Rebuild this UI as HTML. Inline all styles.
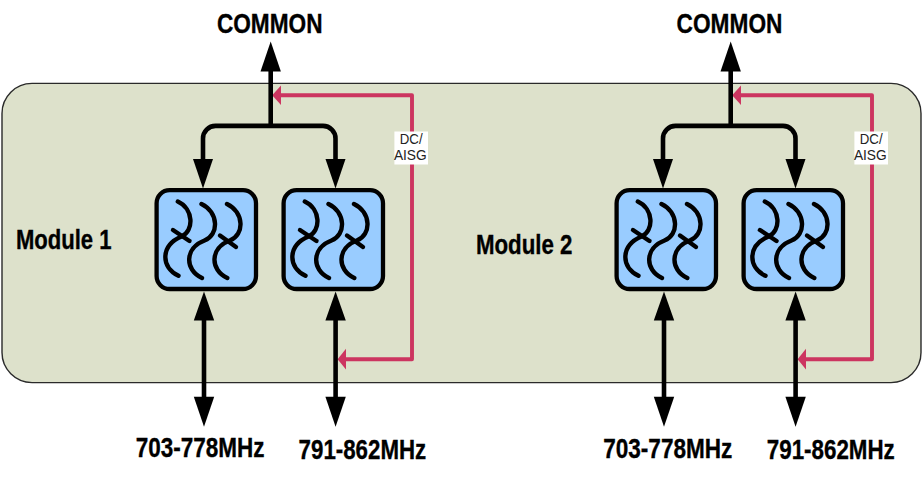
<!DOCTYPE html><html><head><meta charset="utf-8"><style>html,body{margin:0;padding:0;background:#fff;}svg{display:block;font-family:"Liberation Sans",sans-serif;}</style></head><body>
<svg width="923" height="479" viewBox="0 0 923 479">
<rect x="0" y="0" width="923" height="479" fill="#fff"/>
<rect x="2" y="83.4" width="919" height="299.2" rx="30" ry="30" fill="#DDE1CB" stroke="#2a2a2a" stroke-width="1.4"/>
<g transform="translate(0,0)">
<path d="M280,95.3 H412 V359.2 H345" fill="none" stroke="#CC3560" stroke-width="3.9" stroke-linejoin="round"/>
<polygon points="272.2,95.3 281,85.4 281,105" fill="#CC3560"/>
<polygon points="337.6,359.2 346,348.8 346,369.4" fill="#CC3560"/>
<rect x="394.4" y="131.5" width="33.6" height="33" fill="#FFFFFF"/>
<text x="399.8" y="143.9" font-size="14" fill="#222" textLength="22.8" lengthAdjust="spacingAndGlyphs">DC/</text>
<text x="393.9" y="159.9" font-size="14" fill="#222" textLength="32.8" lengthAdjust="spacingAndGlyphs">AISG</text>
<path d="M270.7,126 V70" fill="none" stroke="#000" stroke-width="4.6"/>
<polygon points="270.7,41.5 260.5,71.4 280.9,71.4" fill="#000"/>
<path d="M203,160 V138.4 a12.5,12.5 0 0 1 12.5,-12.5 H323 a12.5,12.5 0 0 1 12.5,12.5 V160" fill="none" stroke="#000" stroke-width="4.6"/>
<polygon points="193,158.9 213,158.9 203,188.4" fill="#000"/>
<polygon points="325.5,158.9 345.5,158.9 335.5,188.4" fill="#000"/>
<g transform="translate(0,0)">
<rect x="156.6" y="190.2" width="99.4" height="98.8" rx="13" ry="13" fill="#99CCFF" stroke="#000" stroke-width="4.3"/>
<g fill="none" stroke="#000" stroke-width="4.4" stroke-linecap="round">
<path d="M177.8,201.6 C194,209 194,231 181.5,236.5 C160.5,245.5 160.5,267 178.5,275.8"/>
<path d="M201.5,204 C219,212.5 219,235 204.5,240.5 C184.5,248 184.5,270 202,278"/>
<path d="M227,204 C244.5,212.5 244.5,235 229.8,240.5 C209.8,248 209.8,270 227.3,278"/>
<path d="M173,230 L189.5,241"/>
<path d="M220,235.5 L236,247"/>
</g></g>
<g transform="translate(127,0)">
<rect x="156.6" y="190.2" width="99.4" height="98.8" rx="13" ry="13" fill="#99CCFF" stroke="#000" stroke-width="4.3"/>
<g fill="none" stroke="#000" stroke-width="4.4" stroke-linecap="round">
<path d="M177.8,201.6 C194,209 194,231 181.5,236.5 C160.5,245.5 160.5,267 178.5,275.8"/>
<path d="M201.5,204 C219,212.5 219,235 204.5,240.5 C184.5,248 184.5,270 202,278"/>
<path d="M227,204 C244.5,212.5 244.5,235 229.8,240.5 C209.8,248 209.8,270 227.3,278"/>
<path d="M173,230 L189.5,241"/>
<path d="M220,235.5 L236,247"/>
</g></g>
<path d="M204,320 V399" fill="none" stroke="#000" stroke-width="4.6"/>
<polygon points="204,291.6 193.8,320.6 214.2,320.6" fill="#000"/>
<polygon points="204,426.8 193.8,396.8 214.2,396.8" fill="#000"/>
<path d="M335.6,320 V399" fill="none" stroke="#000" stroke-width="4.6"/>
<polygon points="335.6,291.6 325.40000000000003,320.6 345.8,320.6" fill="#000"/>
<polygon points="335.6,426.8 325.40000000000003,396.8 345.8,396.8" fill="#000"/>
</g>
<g transform="translate(460,0)">
<path d="M280,95.3 H412 V359.2 H345" fill="none" stroke="#CC3560" stroke-width="3.9" stroke-linejoin="round"/>
<polygon points="272.2,95.3 281,85.4 281,105" fill="#CC3560"/>
<polygon points="337.6,359.2 346,348.8 346,369.4" fill="#CC3560"/>
<rect x="394.4" y="131.5" width="33.6" height="33" fill="#FFFFFF"/>
<text x="399.8" y="143.9" font-size="14" fill="#222" textLength="22.8" lengthAdjust="spacingAndGlyphs">DC/</text>
<text x="393.9" y="159.9" font-size="14" fill="#222" textLength="32.8" lengthAdjust="spacingAndGlyphs">AISG</text>
<path d="M270.7,126 V70" fill="none" stroke="#000" stroke-width="4.6"/>
<polygon points="270.7,41.5 260.5,71.4 280.9,71.4" fill="#000"/>
<path d="M203,160 V138.4 a12.5,12.5 0 0 1 12.5,-12.5 H323 a12.5,12.5 0 0 1 12.5,12.5 V160" fill="none" stroke="#000" stroke-width="4.6"/>
<polygon points="193,158.9 213,158.9 203,188.4" fill="#000"/>
<polygon points="325.5,158.9 345.5,158.9 335.5,188.4" fill="#000"/>
<g transform="translate(0,0)">
<rect x="156.6" y="190.2" width="99.4" height="98.8" rx="13" ry="13" fill="#99CCFF" stroke="#000" stroke-width="4.3"/>
<g fill="none" stroke="#000" stroke-width="4.4" stroke-linecap="round">
<path d="M177.8,201.6 C194,209 194,231 181.5,236.5 C160.5,245.5 160.5,267 178.5,275.8"/>
<path d="M201.5,204 C219,212.5 219,235 204.5,240.5 C184.5,248 184.5,270 202,278"/>
<path d="M227,204 C244.5,212.5 244.5,235 229.8,240.5 C209.8,248 209.8,270 227.3,278"/>
<path d="M173,230 L189.5,241"/>
<path d="M220,235.5 L236,247"/>
</g></g>
<g transform="translate(127,0)">
<rect x="156.6" y="190.2" width="99.4" height="98.8" rx="13" ry="13" fill="#99CCFF" stroke="#000" stroke-width="4.3"/>
<g fill="none" stroke="#000" stroke-width="4.4" stroke-linecap="round">
<path d="M177.8,201.6 C194,209 194,231 181.5,236.5 C160.5,245.5 160.5,267 178.5,275.8"/>
<path d="M201.5,204 C219,212.5 219,235 204.5,240.5 C184.5,248 184.5,270 202,278"/>
<path d="M227,204 C244.5,212.5 244.5,235 229.8,240.5 C209.8,248 209.8,270 227.3,278"/>
<path d="M173,230 L189.5,241"/>
<path d="M220,235.5 L236,247"/>
</g></g>
<path d="M204,320 V399" fill="none" stroke="#000" stroke-width="4.6"/>
<polygon points="204,291.6 193.8,320.6 214.2,320.6" fill="#000"/>
<polygon points="204,426.8 193.8,396.8 214.2,396.8" fill="#000"/>
<path d="M335.6,320 V399" fill="none" stroke="#000" stroke-width="4.6"/>
<polygon points="335.6,291.6 325.40000000000003,320.6 345.8,320.6" fill="#000"/>
<polygon points="335.6,426.8 325.40000000000003,396.8 345.8,396.8" fill="#000"/>
</g>
<text x="216.9" y="33" font-size="28" font-weight="bold" textLength="105.6" lengthAdjust="spacingAndGlyphs" fill="#000" stroke="#000" stroke-width="0.35">COMMON</text>
<text x="676.6" y="33" font-size="28" font-weight="bold" textLength="105.8" lengthAdjust="spacingAndGlyphs" fill="#000" stroke="#000" stroke-width="0.35">COMMON</text>
<text x="15.9" y="248.8" font-size="28" font-weight="bold" textLength="95.6" lengthAdjust="spacingAndGlyphs" fill="#000" stroke="#000" stroke-width="0.35">Module 1</text>
<text x="475.9" y="254" font-size="28" font-weight="bold" textLength="96.6" lengthAdjust="spacingAndGlyphs" fill="#000" stroke="#000" stroke-width="0.35">Module 2</text>
<text x="135.8" y="456.7" font-size="28" font-weight="bold" textLength="128.8" lengthAdjust="spacingAndGlyphs" fill="#000" stroke="#000" stroke-width="0.35">703-778MHz</text>
<text x="298.6" y="458.7" font-size="28" font-weight="bold" textLength="127.6" lengthAdjust="spacingAndGlyphs" fill="#000" stroke="#000" stroke-width="0.35">791-862MHz</text>
<text x="603.2" y="458.3" font-size="28" font-weight="bold" textLength="129.2" lengthAdjust="spacingAndGlyphs" fill="#000" stroke="#000" stroke-width="0.35">703-778MHz</text>
<text x="766.8" y="459.3" font-size="28" font-weight="bold" textLength="128" lengthAdjust="spacingAndGlyphs" fill="#000" stroke="#000" stroke-width="0.35">791-862MHz</text>
</svg></body></html>
